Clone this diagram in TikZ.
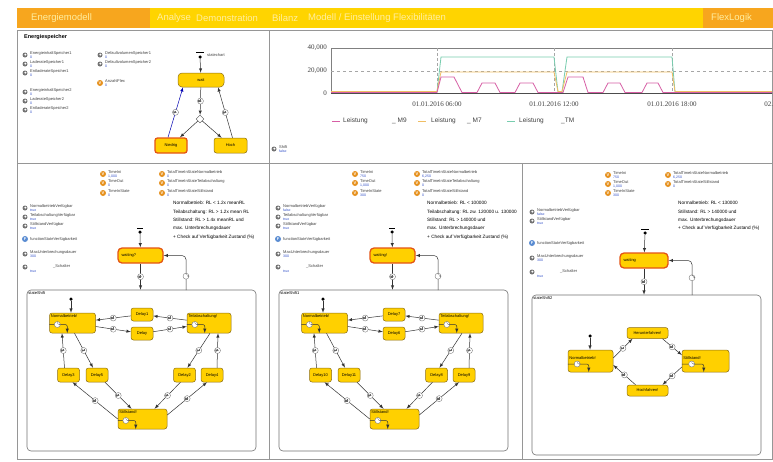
\documentclass[tikz,border=0pt]{standalone}
\usepackage{fontspec}
\setmainfont{Liberation Sans}
\newfontfamily\axisfont{Liberation Serif}
\usetikzlibrary{calc, shapes, arrows}

\definecolor{barorange}{RGB}{247,166,30}
\definecolor{baryellow}{RGB}{255,212,0}
\definecolor{bartext}{RGB}{255,238,160}
\definecolor{stfill}{RGB}{255,208,0}
\definecolor{stdraw}{RGB}{140,110,20}
\definecolor{activered}{RGB}{228,84,20}
\definecolor{valblue}{RGB}{50,80,200}
\definecolor{vorange}{RGB}{230,145,30}
\definecolor{fblue}{RGB}{90,140,210}
\definecolor{tmcol}{RGB}{120,205,175}
\definecolor{m7col}{RGB}{240,190,100}
\definecolor{m9col}{RGB}{215,95,165}
\definecolor{panelgrey}{RGB}{150,150,150}

\begin{document}
\begin{tikzpicture}[x=1pt, y=-1pt, >=latex]
\tikzstyle{state}=[rectangle, rounded corners=2.5pt, draw=stdraw, fill=stfill, line width=0.5pt, inner sep=1pt, font=\fontsize{4}{4.5}\selectfont]
\tikzstyle{activest}=[draw=activered, line width=1.3pt]
\tikzstyle{slabel}=[anchor=north west, inner sep=1.5pt, font=\fontsize{4}{4.5}\selectfont]
\tikzstyle{trans}=[->, draw=black!80, line width=0.5pt]
\tikzstyle{tc}=[circle, draw=black!55, fill=white, minimum size=6pt, inner sep=0pt, line width=0.35pt, path picture={\draw[black!60, line width=0.25pt] (path picture bounding box.center) ++(0,1.8pt) -- (path picture bounding box.center) -- ++(1.3pt,0);}]
\tikzstyle{initdot}=[circle, fill=black, minimum size=3.5pt, inner sep=0pt]
\tikzstyle{comp}=[rectangle, rounded corners=4pt, draw=black!55, line width=0.6pt]
\tikzstyle{picon}=[circle, fill=black!55, minimum size=5pt, inner sep=0pt, path picture={\fill[white] ([xshift=0.4pt,yshift=0.4pt]path picture bounding box.center) circle (1.1pt);}]
\tikzstyle{vicon}=[circle, fill=vorange, text=white, minimum size=6pt, inner sep=0pt, font=\fontsize{4}{4}\selectfont\bfseries]
\tikzstyle{ficon}=[circle, fill=fblue, text=white, minimum size=6pt, inner sep=0pt, font=\fontsize{4}{4}\selectfont\bfseries]
\tikzstyle{ptext}=[anchor=west, inner sep=0pt, font=\fontsize{4}{4.5}\selectfont, text=black!75]
\tikzstyle{pval}=[anchor=west, inner sep=0pt, font=\fontsize{3.5}{4}\selectfont, text=valblue]
\tikzstyle{note}=[anchor=north west, align=left, inner sep=0pt, font=\fontsize{4.7}{8.4}\selectfont]
\tikzstyle{menu}=[anchor=west, inner sep=0pt, text=bartext, font=\fontsize{9.5}{11}\selectfont]
\tikzstyle{axlab}=[inner sep=0pt, text=black!75, font=\axisfont\fontsize{7}{8}\selectfont]
\tikzstyle{leg}=[anchor=west, inner sep=0pt, text=black!75, font=\fontsize{6.5}{7}\selectfont]

\useasboundingbox (0,0) rectangle (773,461);
\fill[white] (0,0) rectangle (773,461);

% menu bar
\fill[baryellow] (17,8) rectangle (773,28);
\fill[barorange] (17,8) rectangle (150,28);
\fill[barorange] (703,8) rectangle (773,28);
\node[menu] (mEnergie) at (31,18) {Energiemodell};
\node[menu] (mAnalyse) at (157,18) {Analyse};
\node[menu] (mDemo) at (196,18) {Demonstration};
\node[menu] (mBilanz) at (272,18) {Bilanz};
\node[menu] (mModell) at (308,18) {Modell / Einstellung Flexibilitäten};
\node[menu] (mFlex) at (711,18) {FlexLogik};

% panels
\draw[panelgrey, line width=0.6pt] (17,30) rectangle (269,163);
\draw[panelgrey, line width=0.6pt] (269,30) rectangle (772.5,163);
\draw[panelgrey, line width=0.6pt] (17,163) rectangle (269,459);
\draw[panelgrey, line width=0.6pt] (269,163) rectangle (522,459);
\draw[panelgrey, line width=0.6pt] (522,163) rectangle (772.5,459);

% Energiespeicher
\node[anchor=west, inner sep=0pt, font=\fontsize{5.5}{6}\selectfont\bfseries] (title) at (24,37) {Energiespeicher};
\foreach \n/\x/\y/\t in {a/25/55/EnergieinhaltSpeicher1, b/25/64/LaderateSpeicher1, c/25/73/EntladerateSpeicher1, d/25/92/EnergieinhaltSpeicher2, e/25/101/LaderateSpeicher2, f/25/110/EntladerateSpeicher2, g/100/55/DefaultvolumenSpeicher1, h/100/64/DefaultvolumenSpeicher2}{
  \node[picon] (e\n) at (\x,\y) {};
  \node[ptext] (e\n-t) at (\x+5,\y-1.5) {\t};
  \node[pval] (e\n-v) at (\x+5,\y+2.5) {0};
}
\node[vicon] (eanz) at (100,83) {V};
\node[ptext] (eanz-t) at (105,81.5) {AnzahlFlex};
\node[pval] (eanz-v) at (105,85.5) {0};

\draw[line width=1pt] (196,52) -- (204,52);
\node[initdot] (init0) at (200,57) {};
\node[ptext] (sc0) at (207,55) {statechart};
\node[state, rounded corners=4pt, minimum width=46, minimum height=14] (wait0) at (201,80) {wait};
\draw[trans] (init0) -- (wait0);
\node[diamond, draw=black!70, fill=white, minimum size=8pt, inner sep=0pt] (branch) at (200,119) {};
\draw[trans] (wait0) -- node[tc] (c0a) {} (branch);
\node[state, activest, minimum width=32, minimum height=15] (low) at (171,145.5) {Niedrig};
\node[state, minimum width=33, minimum height=15] (high) at (230.5,145.5) {Hoch};
\draw[trans] (branch) -- (low);
\draw[trans] (branch) -- (high);
\draw[trans, draw=blue!70!black] ([xshift=-3pt]low.north) -- node[tc] (c0b) {} ([xshift=-18pt]wait0.south);
\draw[trans] ([xshift=2pt]high.north) -- node[tc] (c0c) {} ([xshift=17pt]wait0.south);

% chart
\begin{scope}
\clip (269,30) rectangle (772,163);
\draw[black!50, line width=0.5pt] (331,48) -- (773,48);
\draw[black!50, line width=0.5pt] (331,48) -- (331,93);
\draw[black!35, dashed, line width=0.4pt] (331,71) -- (773,71);
\foreach \gx in {437,554,672} \draw[black!35, densely dashed, line width=0.4pt] (\gx,48) -- (\gx,93);
\draw[tmcol, line width=0.8pt] (331,92) -- (437,92) -- (441,57) -- (554,57) -- (558,92) -- (562,92) -- (567,57) -- (672,57) -- (675,92) -- (773,92);
\draw[m7col, line width=0.8pt] (331,91.5) -- (437,91.5) -- (441,72) -- (554,72) -- (558,91.5) -- (562,91.5) -- (567,72) -- (672,72) -- (675,91.5) -- (773,91.5);
\draw[m9col, line width=0.8pt] (331,92.5) -- (437,92.5) -- (441,77) -- (454,77) -- (462,92.5) -- (477,92.5) -- (482,83) -- (495,83) -- (500,92.5) -- (515,92.5) -- (520,83) -- (533,83) -- (538,92.5) -- (563,92.5) -- (568,77) -- (583,77) -- (588,92.5) -- (603,92.5) -- (608,83) -- (620,83) -- (625,92.5) -- (642,92.5) -- (647,83) -- (658,83) -- (663,92.5) -- (773,92.5);
\draw[black!70, line width=0.6pt] (331,93) -- (773,93);
\node[axlab, anchor=east] (y40) at (327,48) {40,000};
\node[axlab, anchor=east] (y20) at (327,71) {20,000};
\node[axlab, anchor=east] (y0) at (327,93) {0};
\node[axlab] (x06) at (437,104) {01.01.2016 06:00};
\node[axlab] (x12) at (554,104) {01.01.2016 12:00};
\node[axlab] (x18) at (672,104) {01.01.2016 18:00};
\node[axlab] (x24) at (789,104) {02.01.2016 00:00};
\end{scope}
\draw[m9col, line width=1pt] (332,121) -- (340,121);
\node[leg] (l1) at (343,121) {Leistung};
\node[leg] (l2) at (392,121) {\_ M9};
\draw[m7col, line width=1pt] (418,121) -- (426,121);
\node[leg] (l3) at (431,121) {Leistung};
\node[leg] (l4) at (467,121) {\_ M7};
\draw[tmcol, line width=1pt] (507,121) -- (515,121);
\node[leg] (l5) at (519,121) {Leistung};
\node[leg] (l6) at (561,121) {\_TM};
\node[picon] (shift) at (274,149) {};
\node[ptext] (shift-t) at (279,147.5) {Shift};
\node[pval] (shift-v) at (279,151.5) {false};

% parameters of the two shift panels
\foreach \n/\x/\y/\t/\v in {a/103/174/TimeIni/{1,000}, b/103/183/TimeOut/0, c/103/193/TimeInState/0, d/162/174/TotalTimeInStateNormalbetrieb/0, e/162/183/TotalTimeInStateTeilabschaltung/0, f/162/193/TotalTimeInStateStillstand/0, g/355/174/TimeIni/750, h/355/183/TimeOut/{1,000}, i/355/193/TimeInState/300, j/417/174/TotalTimeInStateNormalbetrieb/{6,250}, k/417/183/TotalTimeInStateTeilabschaltung/0, l/417/193/TotalTimeInStateStillstand/0}{
  \node[vicon] (v\n) at (\x,\y) {V};
  \node[ptext] (v\n-t) at (\x+5,\y-1.5) {\t};
  \node[pval] (v\n-v) at (\x+5,\y+2.5) {\v};
}
\foreach \n/\x/\y/\t/\v in {a/25/208/NormalbetriebVerfügbar/true, b/25/217/TeilabschaltungVerfügbar/true, c/25/226/StillstandVerfügbar/true, d/25/254/MaxUnterbrechungsdauer/300, g/278/208/NormalbetriebVerfügbar/false, h/278/217/TeilabschaltungVerfügbar/true, i/278/226/StillstandVerfügbar/true, j/278/254/MaxUnterbrechungsdauer/300}{
  \node[picon] (p\n) at (\x,\y) {};
  \node[ptext] (p\n-t) at (\x+5,\y-1.5) {\t};
  \node[pval] (p\n-v) at (\x+5,\y+2.5) {\v};
}
\foreach \n/\x in {1/25, 2/278}{
  \node[ficon] (f\n) at (\x,239) {F};
  \node[ptext] (f\n-t) at (\x+5,239) {functionStateVerfügbarkeit};
  \node[picon] (s\n) at (\x,267) {};
  \node[ptext] (s\n-t) at (\x+28,266) {\_Schalter};
  \node[pval] (s\n-v) at (\x+5,271) {true};
}
\node[note] (note1) at (173,201) {Normalbetrieb: RL < 1.2x meanRL\\Teilabschaltung: RL > 1.2x mean RL\\Stillstand: RL > 1.4x meanRL und\\max. Unterbrechungsdauer\\+ Check auf Verfügbarkeit Zustand (\%)};
\begin{scope}
\clip (269,163) rectangle (521.5,459);
\node[note] (note2) at (427,201) {Normalbetrieb: RL < 100000\\Teilabschaltung: RL zw. 120000 u. 130000\\Stillstand: RL > 140000 und\\max. Unterbrechungsdauer\\+ Check auf Verfügbarkeit Zustand (\%)};
\end{scope}

% the two shift statecharts
\foreach \p/\dx/\wl/\sl/\da/\db/\dc/\dd/\de/\df in {1/0/waiting?/stateShift/Delay1/Delay/Delay3/Delay5/Delay2/Delay4, 2/252/waiting!/stateShift1/Delay7/Delay6/Delay10/Delay11/Delay8/Delay9}{
\begin{scope}[xshift=\dx pt]
  \draw[line width=1pt] (137,228) -- (143,228);
  \node[initdot] (init\p) at (140,232) {};
  \node[state, activest, rounded corners=4pt, minimum width=45, minimum height=15, text width=38pt, align=left] (wait\p) at (140.5,255.5) {\wl};
  \draw[trans] (init\p) -- (wait\p);
  \node[comp, minimum width=229, minimum height=161, label={[slabel]north west:\sl}] (shift\p) at (141.5,370.5) {};
  \draw[trans] (wait\p) -- node[tc] (c\p-a) {} (wait\p |- shift\p.north);
  \coordinate (ret\p) at (186,290);
  \draw[trans, rounded corners=4pt] (ret\p) |- node[tc, pos=0.2] (c\p-b) {} (wait\p.east);
  \node[initdot] (init\p s) at (71,299) {};
  \node[state, minimum width=46, minimum height=20, label={[slabel]north west:Normalbetrieb!}] (nb\p) at (72.5,323) {};
  \draw[trans] (init\p s) -- (init\p s |- nb\p.north);
  \node[state, minimum width=22, minimum height=13] (da\p) at (142,314.5) {\da};
  \node[state, minimum width=22, minimum height=13] (db\p) at (142,333.5) {\db};
  \node[state, minimum width=44, minimum height=20, label={[slabel]north west:Teilabschaltung!}] (ta\p) at (209,323) {};
  \node[state, minimum width=22, minimum height=14] (dc\p) at (68.5,375) {\dc};
  \node[state, minimum width=22, minimum height=14] (dd\p) at (97,375) {\dd};
  \node[state, minimum width=22, minimum height=14] (de\p) at (184.5,375) {\de};
  \node[state, minimum width=22, minimum height=14] (df\p) at (212,375) {\df};
  \node[state, minimum width=49, minimum height=20, label={[slabel]north west:Stillstand!}] (st\p) at (142.5,419) {};
  \draw[trans] (ta\p) -- node[tc] (c\p-1) {} (da\p);
  \draw[trans] (da\p) -- node[tc] (c\p-2) {} (nb\p);
  \draw[trans] (nb\p) -- node[tc] (c\p-3) {} (db\p);
  \draw[trans] (db\p) -- node[tc] (c\p-4) {} (ta\p);
  \draw[trans] ([xshift=-4pt]dc\p.north) -- node[tc] (c\p-5) {} ([xshift=-10.5pt]nb\p.south);
  \draw[trans] ([xshift=2pt]nb\p.south) -- node[tc] (c\p-6) {} ([xshift=-4pt]dd\p.north);
  \draw[trans] ([xshift=8pt]dd\p.south) -- node[tc] (c\p-7) {} ([xshift=-11pt]st\p.north);
  \draw[trans] (st\p.west) -- node[tc] (c\p-8) {} ([xshift=4pt]dc\p.south);
  \draw[trans] ([xshift=1pt]ta\p.south) -- node[tc] (c\p-9) {} ([xshift=3pt]de\p.north);
  \draw[trans] ([xshift=5pt]df\p.north) -- node[tc] (c\p-10) {} ([xshift=9pt]ta\p.south);
  \draw[trans] ([xshift=-4pt]de\p.south) -- node[tc] (c\p-11) {} ([xshift=12pt]st\p.north);
  \draw[trans] ([yshift=4pt]st\p.east) -- node[tc] (c\p-12) {} ([xshift=-5pt]df\p.south);
  \draw[trans, rounded corners=2pt] ([yshift=-1.5pt]nb\p.west) -- node[tc, pos=0.45] (c\p-13) {} ++(18,0) -- ++(0,8.5);
  \draw[trans, rounded corners=2pt] ([yshift=-1.5pt]ta\p.west) -- node[tc, pos=0.45] (c\p-14) {} ++(18,0) -- ++(0,8.5);
  \draw[trans, rounded corners=2pt] ([yshift=-1.5pt]st\p.west) -- node[tc, pos=0.45] (c\p-15) {} ++(18,0) -- ++(0,8.5);
\end{scope}
}

% right panel
\foreach \n/\x/\y/\t/\v in {a/608/175/TimeIni/750, b/608/184/TimeOut/{1,000}, c/608/193/TimeInState/300, d/668/175/TotalTimeInStateNormalbetrieb/{6,250}, e/668/184/TotalTimeInStateStillstand/0}{
  \node[vicon] (r\n) at (\x,\y) {V};
  \node[ptext] (r\n-t) at (\x+5,\y-1.5) {\t};
  \node[pval] (r\n-v) at (\x+5,\y+2.5) {\v};
}
\foreach \n/\y/\t/\v in {a/212/NormalbetriebVerfügbar/false, b/221/StillstandVerfügbar/true, c/258/MaxUnterbrechungsdauer/300}{
  \node[picon] (q\n) at (532,\y) {};
  \node[ptext] (q\n-t) at (537,\y-1.5) {\t};
  \node[pval] (q\n-v) at (537,\y+2.5) {\v};
}
\node[ficon] (f3) at (532,243) {F};
\node[ptext] (f3-t) at (537,243) {functionStateVerfügbarkeit};
\node[picon] (s3) at (532,272) {};
\node[ptext] (s3-t) at (560,271) {\_Schalter};
\node[pval] (s3-v) at (537,276) {true};
\node[note] (note3) at (678,201) {Normalbetrieb: RL < 130000\\Stillstand: RL > 140000 und\\max. Unterbrechungsdauer\\+ Check auf Verfügbarkeit Zustand (\%)};

\draw[line width=1pt] (641,229) -- (649,229);
\node[initdot] (init3) at (645,233) {};
\node[state, activest, rounded corners=4pt, minimum width=48, minimum height=15, text width=41pt, align=left] (wait3) at (644,260.5) {waiting};
\draw[trans] (init3) -- (wait3);
\node[comp, minimum width=229, minimum height=160, label={[slabel]north west:stateShift2}] (shift3) at (646.5,375) {};
\draw[trans] (wait3) -- node[tc] (c3-a) {} (wait3 |- shift3.north);
\coordinate (ret3) at (692,295);
\draw[trans, rounded corners=4pt] (ret3) |- node[tc, pos=0.25] (c3-b) {} (wait3.east);
\node[initdot] (init3s) at (590,336) {};
\node[state, minimum width=45, minimum height=22, label={[slabel, anchor=west, yshift=3pt]west:Normalbetrieb!}] (nb3) at (590.5,361) {};
\draw[trans] (init3s) -- (init3s |- nb3.north);
\node[state, minimum width=41, minimum height=11] (he3) at (647.5,333) {Herunterfahren!};
\node[state, minimum width=47, minimum height=22, label={[slabel, anchor=west, yshift=3pt]west:Stillstand!}] (st3) at (705.5,361) {};
\node[state, minimum width=41, minimum height=11] (ho3) at (647.5,390.5) {Hochfahren!};
\draw[trans] ([yshift=3pt]nb3.east) -- node[tc] (c3-1) {} ([xshift=-15pt]he3.south);
\draw[trans] ([xshift=15pt]he3.south) -- node[tc] (c3-2) {} ([yshift=6pt]st3.west);
\draw[trans] ([yshift=-6pt]st3.west) -- node[tc] (c3-3) {} ([xshift=15pt]ho3.north);
\draw[trans] ([xshift=-12pt]ho3.north) -- node[tc] (c3-4) {} ([yshift=-4pt]nb3.east);
\draw[trans, rounded corners=2pt] ([yshift=-3pt]nb3.west) -- node[tc, pos=0.45] (c3-5) {} ++(21,0) -- ++(0,8);
\draw[trans, rounded corners=2pt] ([yshift=-3pt]st3.west) -- node[tc, pos=0.45] (c3-6) {} ++(22,0) -- ++(0,8);
\end{tikzpicture}
\end{document}
